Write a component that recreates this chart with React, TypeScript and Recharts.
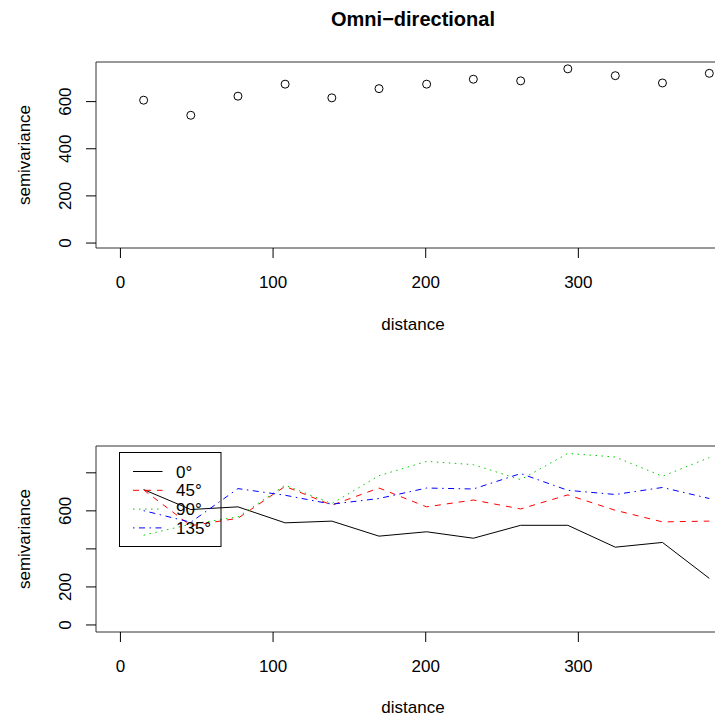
import { ScatterChart, Scatter, LineChart, Line, XAxis, YAxis, ReferenceArea, Legend } from "recharts"

// lag distances (same bins for both panels)
const distances = [15.2, 46.1, 77.0, 107.9, 138.5, 169.4, 200.6, 231.2, 262.2, 293.1, 324.2, 355.1, 385.8]

// omni-directional semivariance
const omniGamma = [606, 542, 623, 674, 616, 655, 674, 695, 688, 739, 710, 679, 720]

// directional semivariance
const gamma0 = [712, 607, 621, 537, 546, 467, 490, 456, 524, 524, 409, 434, 245]
const gamma45 = [710, 522, 561, 729, 630, 720, 621, 657, 610, 684, 603, 542, 546]
const gamma90 = [472, 530, 568, 735, 638, 785, 860, 843, 764, 902, 883, 782, 880]
const gamma135 = [601, 540, 717, 682, 635, 665, 720, 715, 796, 708, 686, 723, 665]

const xTicks = [0, 100, 200, 300]
const topYTicks = [0, 200, 400, 600]
const bottomYTicks = [0, 200, 400, 600, 800]
const bottomYLabels = [0, 200, 600] // R drops the labels that would overlap

const directions = [
  { key: "d0", label: "0°", color: "#000000", dash: undefined },
  { key: "d45", label: "45°", color: "#FF0000", dash: "6 6" },
  { key: "d90", label: "90°", color: "#00CD00", dash: "1.5 4.5" },
  { key: "d135", label: "135°", color: "#0000FF", dash: "1.5 4.5 6 4.5" },
]

const FONT = "'Liberation Sans', Arial, Helvetica, sans-serif"
const X_DOMAIN: [number, number] = [-16, 400]

const omniData = distances.map((d, i) => ({ dist: d, gamma: omniGamma[i] }))
const dirData = distances.map((d, i) => ({
  dist: d,
  d0: gamma0[i],
  d45: gamma45[i],
  d90: gamma90[i],
  d135: gamma135[i],
}))

const XTick = ({ x, y, payload }: any) => (
  <text x={x} y={y + 29.5} textAnchor="middle" fontSize={17} fontFamily={FONT} fill="#000">
    {payload.value}
  </text>
)

const makeYTick = (shown?: number[]) => ({ x, y, payload }: any) => {
  if (shown && !shown.includes(payload.value)) return <g />
  return (
    <text
      x={x}
      y={y}
      transform={`rotate(-90 ${x} ${y})`}
      textAnchor="middle"
      fontSize={17}
      fontFamily={FONT}
      fill="#000"
    >
      {payload.value}
    </text>
  )
}

const DirLegend = () => (
  <svg width={103} height={96} style={{ display: "block" }}>
    <rect x={0.5} y={0.5} width={101.5} height={94} fill="none" stroke="#000" />
    {directions.map((d, i) => {
      const cy = 19.5 + i * 18.8
      return (
        <g key={d.key}>
          <line x1={14} x2={43.5} y1={cy} y2={cy} stroke={d.color} strokeDasharray={d.dash} />
          <text x={57} y={cy + 6} fontSize={17} fontFamily={FONT} fill="#000">
            {d.label}
          </text>
        </g>
      )
    })}
  </svg>
)

export default function App() {
  return (
    <div
      style={{
        position: "absolute",
        left: 0,
        top: 0,
        width: 715,
        height: 717,
        overflow: "hidden",
        background: "#fff",
        fontFamily: FONT,
      }}
    >
      <div style={{ position: "absolute", left: 0, top: 0 }}>
        <ScatterChart width={740} height={340} margin={{ top: 62, right: 9, left: 0, bottom: 0 }}>
          <XAxis
            type="number"
            dataKey="dist"
            domain={X_DOMAIN}
            ticks={xTicks}
            height={92}
            axisLine={false}
            tickLine={{ stroke: "#000" }}
            tickSize={10}
            tickMargin={0}
            tick={<XTick />}
            interval={0}
          />
          <YAxis
            type="number"
            dataKey="gamma"
            domain={[-21, 768]}
            ticks={topYTicks}
            width={96}
            axisLine={false}
            tickLine={{ stroke: "#000" }}
            tickSize={10}
            tickMargin={15}
            tick={makeYTick()}
            interval={0}
          />
          <ReferenceArea x1={-16} x2={400} y1={-21} y2={768} fill="none" stroke="#333" ifOverflow="visible" />
          <Scatter
            data={omniData}
            isAnimationActive={false}
            shape={(p: any) => <circle cx={p.cx} cy={p.cy} r={4} fill="none" stroke="#000" />}
          />
        </ScatterChart>
      </div>

      <div style={{ position: "absolute", left: 0, top: 360 }}>
        <LineChart width={740} height={357} data={dirData} margin={{ top: 86, right: 9, left: 0, bottom: 0 }}>
          <XAxis
            type="number"
            dataKey="dist"
            domain={X_DOMAIN}
            ticks={xTicks}
            height={85}
            axisLine={false}
            tickLine={{ stroke: "#000" }}
            tickSize={10}
            tickMargin={0}
            tick={<XTick />}
            interval={0}
          />
          <YAxis
            type="number"
            domain={[-37, 941]}
            ticks={bottomYTicks}
            width={96}
            axisLine={false}
            tickLine={{ stroke: "#000" }}
            tickSize={10}
            tickMargin={15}
            tick={makeYTick(bottomYLabels)}
            interval={0}
          />
          <ReferenceArea x1={-16} x2={400} y1={-37} y2={941} fill="none" stroke="#333" ifOverflow="visible" />
          {directions.map((d) => (
            <Line
              key={d.key}
              type="linear"
              dataKey={d.key}
              name={d.label}
              stroke={d.color}
              strokeWidth={1}
              strokeDasharray={d.dash}
              dot={false}
              isAnimationActive={false}
            />
          ))}
          <Legend
            layout="horizontal"
            align="center"
            verticalAlign="middle"
            content={<DirLegend />}
            wrapperStyle={{ position: "absolute", left: 119, top: 92, width: 103, height: 96 }}
          />
        </LineChart>
      </div>

      <svg width={715} height={717} style={{ position: "absolute", left: 0, top: 0, pointerEvents: "none" }}>
        <text x={413} y={26} textAnchor="middle" fontSize={20} fontWeight="bold" fontFamily={FONT}>
          Omni−directional
        </text>
        <text x={413} y={329.5} textAnchor="middle" fontSize={17} fontFamily={FONT}>
          distance
        </text>
        <text x={413} y={713} textAnchor="middle" fontSize={17} fontFamily={FONT}>
          distance
        </text>
        <text x={29.5} y={155} transform="rotate(-90 29.5 155)" textAnchor="middle" fontSize={17} fontFamily={FONT}>
          semivariance
        </text>
        <text x={29.5} y={539} transform="rotate(-90 29.5 539)" textAnchor="middle" fontSize={17} fontFamily={FONT}>
          semivariance
        </text>
      </svg>
    </div>
  )
}
